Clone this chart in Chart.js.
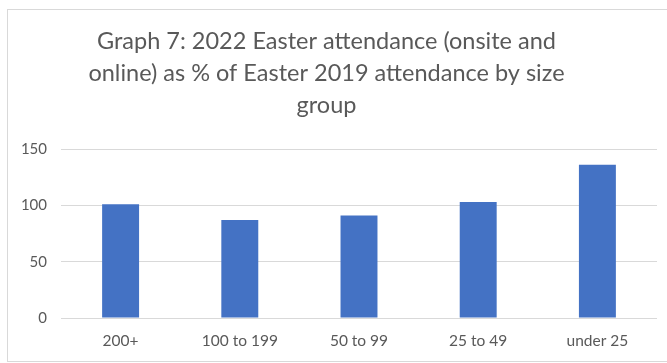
<!DOCTYPE html>
<html>
<head>
<meta charset="utf-8">
<script src="https://cdn.jsdelivr.net/npm/chart.js@4"></script>
<style>
  html, body { margin: 0; padding: 0; background: #fff; overflow: hidden; }
  body { width: 667px; height: 363px; position: relative; }
  #frame { position: absolute; left: 7px; top: 9px; width: 660px; height: 353px; border: 1px solid #d9d9d9; border-right: none; box-sizing: border-box; pointer-events: none; }
  #wrap { position: absolute; left: -4px; top: 0; width: 671px; height: 363px; }
</style>
</head>
<body>
<div id="wrap"><canvas id="c" width="671" height="363"></canvas></div>
<div id="frame"></div>
<script>
const categories = ["200+", "100 to 199", "50 to 99", "25 to 49", "under 25"];
const attendancePct = [101, 87, 91, 103, 136];
const yTicks = [0, 50, 100, 150];
const titleLines = [
  "Graph 7: 2022 Easter attendance (onsite and",
  "online) as % of Easter 2019 attendance by size",
  "group"
];

const textGrey = "#595959";
const fontFamily = "Lato, 'Open Sans', sans-serif";

new Chart(document.getElementById("c"), {
  type: "bar",
  data: {
    labels: categories,
    datasets: [{
      data: attendancePct,
      backgroundColor: "#4472C4",
      borderWidth: 0,
      barPercentage: 0.31,
      categoryPercentage: 1.0
    }]
  },
  options: {
    responsive: false,
    animation: false,
    devicePixelRatio: 1,
    layout: { padding: { left: 0, right: 10, top: 0, bottom: 0 } },
    plugins: {
      legend: { display: false },
      tooltip: { enabled: false },
      title: {
        display: true,
        text: titleLines,
        color: textGrey,
        font: { family: fontFamily, size: 23.5, weight: "normal", lineHeight: 32 / 23.5 },
        padding: { top: 25, bottom: 28 }
      }
    },
    scales: {
      x: {
        grid: { display: false, drawTicks: false },
        border: { display: false },
        ticks: {
          color: textGrey,
          font: { family: fontFamily, size: 15.5 },
          padding: 14,
          maxRotation: 0
        },
        afterFit: (s) => { s.height = 45; }
      },
      y: {
        min: 0,
        max: 150,
        afterBuildTicks: (s) => { s.ticks = yTicks.map(v => ({ value: v })); },
        grid: { color: "#d9d9d9", lineWidth: 1, drawTicks: false },
        border: { display: false },
        ticks: {
          color: textGrey,
          font: { family: fontFamily, size: 15 },
          padding: 14
        },
        afterFit: (s) => { s.width = 65; }
      }
    }
  }
});
</script>
</body>
</html>
